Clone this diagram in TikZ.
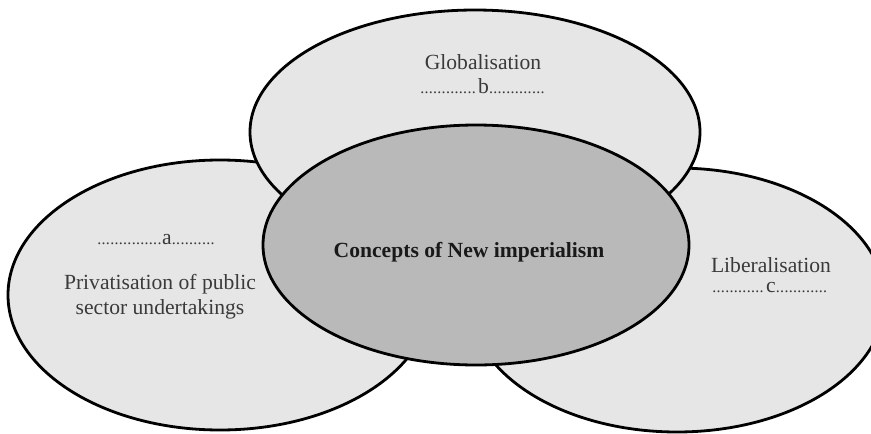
\documentclass[tikz,border=0pt]{standalone}
\usepackage{fontspec}
\setmainfont{Liberation Serif}
\usetikzlibrary{shapes.geometric}
\definecolor{petal}{HTML}{E6E6E6}
\definecolor{core}{HTML}{B9B9B9}
\definecolor{ink}{HTML}{3A3A3A}
% a run of small leader dots of a given width, used for the blanks
\newcommand\leaderrun[1]{\makebox[#1]{\leaders\hbox to 4.3pt{\hss\fontsize{16}{16}\selectfont.\hss}\hfill}}
\begin{document}
\begin{tikzpicture}[x=1pt,y=-1pt,
  bubble/.style={ellipse,draw=black,line width=2.8pt,inner sep=0pt,outer sep=0pt},
  word/.style={text=ink,font=\fontsize{21.6}{25}\selectfont,align=center,inner sep=0pt},
  coreword/.style={text=black!90,font=\fontsize{21.6}{25}\selectfont\bfseries,inner sep=0pt}]
\useasboundingbox (0,0) rectangle (871,434);
\begin{scope}
\clip (0,0) rectangle (871,434);
% outer petals, drawn first so the top one and the core sit over them
\node[bubble,fill=petal,minimum width=424pt,minimum height=270pt] (left) at (220,295) {};
\node[bubble,fill=petal,minimum width=416pt,minimum height=264pt] (right) at (677,300) {};
\node[bubble,fill=petal,minimum width=450pt,minimum height=244pt] (top) at (475,132) {};
% central ellipse
\node[bubble,fill=core,minimum width=426pt,minimum height=240pt] (centre) at (476,245) {};
\end{scope}
% labels
\node[word] (glob) at (483,62) {Globalisation};
\node[word] (bdots) at (483,86) {\leaderrun{58pt}b\leaderrun{57pt}};
\node[word] (adots) at (158,240) {\leaderrun{65pt}a\leaderrun{47pt}};
\node[word] (priv) at (160,297) {Privatisation of public\\sector undertakings};
\node[coreword] (concepts) at (469,252) {Concepts of New imperialism};
\node[word] (lib) at (771,265) {Liberalisation};
\node[word] (cdots) at (770,288) {\leaderrun{54pt}c\leaderrun{52pt}};
\end{tikzpicture}
\end{document}
